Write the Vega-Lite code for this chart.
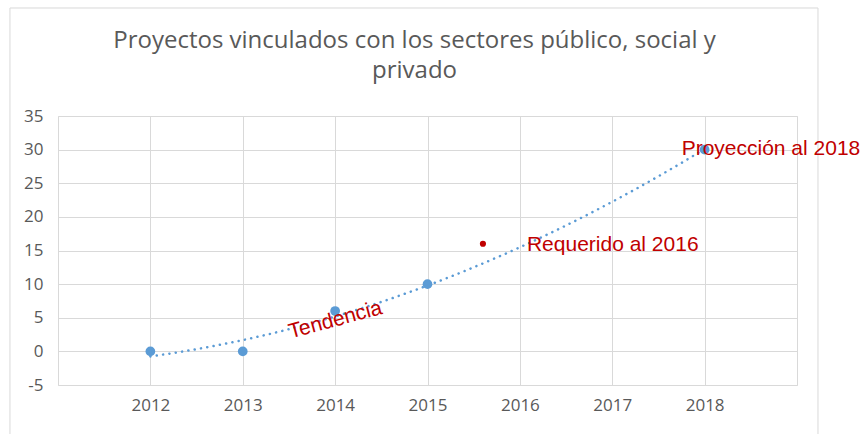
{
  "$schema": "https://vega.github.io/schema/vega-lite/v6.json",
  "width": 739,
  "height": 269,
  "autosize": {"type": "none"},
  "padding": {"left": 58, "top": 116, "right": 67, "bottom": 49},
  "background": "white",
  "config": {
    "view": {"stroke": "#D9D9D9", "strokeWidth": 1},
    "axis": {
      "grid": true,
      "gridColor": "#D9D9D9",
      "gridWidth": 1,
      "domain": false,
      "ticks": false,
      "labelColor": "#595959",
      "labelFont": "Open Sans",
      "labelFontSize": 17,
      "title": null
    }
  },
  "title": {
    "text": ["Proyectos vinculados con los sectores público, social y", "privado"],
    "font": "Open Sans",
    "fontSize": 24,
    "fontWeight": "normal",
    "color": "#595959",
    "lineHeight": 30,
    "anchor": "middle",
    "frame": "group",
    "dx": -13,
    "offset": -76
  },
  "datasets": {
    "proyectos": [
      {"year": 2012, "value": 0, "label": ""},
      {"year": 2013, "value": 0, "label": ""},
      {"year": 2014, "value": 6, "label": ""},
      {"year": 2015, "value": 10, "label": ""},
      {"year": 2018, "value": 30, "label": "Proyección al 2018"}
    ],
    "requerido": [
      {"year": 2015.6, "value": 16, "label": "Requerido al 2016"}
    ],
    "notas": [
      {"year": 2014.02, "value": 3.77, "label": "Tendencia"}
    ],
    "marco": [
      {"year": 2010.48, "year2": 2019.227, "value": 51.06, "value2": -14}
    ]
  },
  "encoding": {
    "x": {
      "field": "year",
      "type": "quantitative",
      "scale": {"domain": [2011, 2019], "nice": false, "zero": false},
      "axis": {"values": [2012, 2013, 2014, 2015, 2016, 2017, 2018], "format": "d", "labelPadding": 12}
    },
    "y": {
      "field": "value",
      "type": "quantitative",
      "scale": {"domain": [-5, 35], "nice": false, "zero": false},
      "axis": {"values": [-5, 0, 5, 10, 15, 20, 25, 30, 35], "labelExpr": "'' + datum.value", "labelPadding": 15}
    }
  },
  "layer": [
    {
      "data": {"name": "marco"},
      "mark": {"type": "rect", "fill": null, "fillOpacity": 0, "stroke": "#D9D9D9", "strokeWidth": 1, "clip": false},
      "encoding": {
        "x2": {"field": "year2"},
        "y2": {"field": "value2"}
      }
    },
    {
      "data": {"name": "proyectos"},
      "transform": [
        {"regression": "value", "on": "year", "method": "poly", "order": 2, "extent": [2012, 2018]}
      ],
      "mark": {"type": "line", "color": "#5B9BD5", "strokeWidth": 2.5, "strokeDash": [0.1, 6.3], "strokeCap": "round"}
    },
    {
      "data": {"name": "proyectos"},
      "mark": {"type": "circle", "color": "#5B9BD5", "opacity": 1, "size": 95}
    },
    {
      "data": {"name": "requerido"},
      "mark": {"type": "circle", "color": "#C00000", "opacity": 1, "size": 38}
    },
    {
      "data": {"name": "requerido"},
      "mark": {"type": "text", "font": "Liberation Sans", "fontSize": 21, "color": "#C00000", "align": "left", "baseline": "alphabetic", "dx": 44, "dy": 7},
      "encoding": {"text": {"field": "label"}}
    },
    {
      "data": {"name": "proyectos"},
      "mark": {"type": "text", "font": "Liberation Sans", "fontSize": 21, "color": "#C00000", "align": "left", "baseline": "alphabetic", "dx": -23, "dy": 5},
      "encoding": {"text": {"field": "label"}}
    },
    {
      "data": {"name": "notas"},
      "mark": {"type": "text", "font": "Liberation Sans", "fontSize": 21, "color": "#C00000", "align": "center", "baseline": "alphabetic", "angle": -15},
      "encoding": {"text": {"field": "label"}}
    }
  ]
}
